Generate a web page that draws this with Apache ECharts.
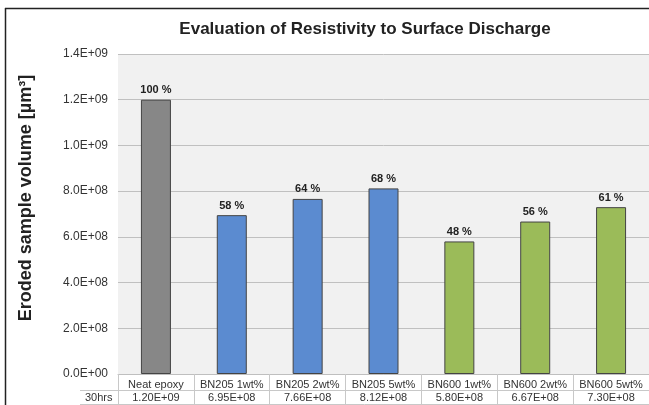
<!DOCTYPE html>
<html><head><meta charset="utf-8">
<script src="https://cdn.jsdelivr.net/npm/echarts@6/dist/echarts.min.js"></script>
<style>html,body{margin:0;padding:0;background:#fff}#c{width:649px;height:405px}</style>
</head><body><div id="c"></div>
<script>
const categories = ['Neat epoxy','BN205 1wt%','BN205 2wt%','BN205 5wt%','BN600 1wt%','BN600 2wt%','BN600 5wt%'];
const values = [1.20e9, 6.95e8, 7.66e8, 8.12e8, 5.80e8, 6.67e8, 7.30e8];
const valueLabels = ['1.20E+09','6.95E+08','7.66E+08','8.12E+08','5.80E+08','6.67E+08','7.30E+08'];
const percentLabels = ['100 %','58 %','64 %','68 %','48 %','56 %','61 %'];
const barColors = ['#878787','#5b8bd0','#5b8bd0','#5b8bd0','#9bbb59','#9bbb59','#9bbb59'];
const rowLabel = '30hrs';
const yAxisTitle = 'Eroded sample volume [µm³]';

function sci(v){
  if (v === 0) return '0.0E+00';
  const e = Math.floor(Math.log10(Math.abs(v)) + 1e-9);
  const m = v / Math.pow(10, e);
  return m.toFixed(1) + 'E+' + String(e).padStart(2,'0');
}

const chart = echarts.init(document.getElementById('c'));
const font = 'Arial, "Liberation Sans", sans-serif';
const axisBase = {
  type: 'category', data: categories, position: 'bottom',
  axisLine: {show: true, lineStyle: {color: '#bfbfbf', width: 1}},
  axisTick: {show: true, alignWithLabel: false, inside: false, lineStyle: {color: '#bfbfbf'}},
  splitLine: {show: false}
};
chart.setOption({
  animation: false,
  textStyle: {fontFamily: font},
  title: {text: 'Evaluation of Resistivity to Surface Discharge', left: 360, top: 16, textAlign: 'center',
    textStyle: {fontSize: 17, fontWeight: 'bold', color: '#222', fontFamily: font}},
  grid: {left: 118, right: 0, top: 54, bottom: 31, show: true, backgroundColor: '#f1f1f1', borderWidth: 0},
  xAxis: [
    Object.assign({}, axisBase, {
      axisTick: {show: true, length: 16, lineStyle: {color: '#c8c8c8'}},
      axisLabel: {margin: 5, fontSize: 11, color: '#333', interval: 0, fontFamily: font}
    }),
    Object.assign({}, axisBase, {
      offset: 16,
      axisTick: {show: true, length: 14, lineStyle: {color: '#c8c8c8'}},
      axisLine: {show: true, lineStyle: {color: '#c8c8c8'}},
      axisLabel: {margin: 2, fontSize: 11, color: '#333', interval: 0, fontFamily: font,
        formatter: (v, i) => valueLabels[i]}
    })
  ],
  yAxis: {
    type: 'value', min: 0, max: 1.4e9, interval: 2e8,
    axisLine: {show: false}, axisTick: {show: false},
    axisLabel: {formatter: sci, fontSize: 12, color: '#333', margin: 10, fontFamily: font},
    splitLine: {lineStyle: {color: '#c0c0c0', width: 1}}
  },
  series: [{
    type: 'bar', xAxisIndex: 0, barWidth: 30,
    data: values.map((v, i) => ({value: v, itemStyle: {color: barColors[i]}})),
    itemStyle: {borderColor: '#444', borderWidth: 1},
    label: {show: true, position: 'top', distance: 4, fontSize: 11, fontWeight: 'bold', color: '#222',
      fontFamily: font, formatter: p => percentLabels[p.dataIndex]}
  }],
  graphic: [
    {type: 'line', shape: {x1: 5.5, y1: 8, x2: 5.5, y2: 405}, style: {stroke: '#222', lineWidth: 1.5}},
    {type: 'line', shape: {x1: 5, y1: 8.5, x2: 649, y2: 8.5}, style: {stroke: '#222', lineWidth: 1.5}},
    {type: 'text', x: 26, y: 198, rotation: Math.PI / 2,
      style: {text: yAxisTitle, fontSize: 18, fontWeight: 'bold', fill: '#222', fontFamily: font,
        align: 'center', verticalAlign: 'middle'}},
    {type: 'text', left: 85, top: 392, style: {text: rowLabel, fontSize: 11, fill: '#333', fontFamily: font}},
    {type: 'line', shape: {x1: 80, y1: 390.5, x2: 118, y2: 390.5}, style: {stroke: '#c8c8c8', lineWidth: 1}},
    {type: 'line', shape: {x1: 80, y1: 404.5, x2: 649, y2: 404.5}, style: {stroke: '#c8c8c8', lineWidth: 1}}
  ]
});
</script></body></html>
